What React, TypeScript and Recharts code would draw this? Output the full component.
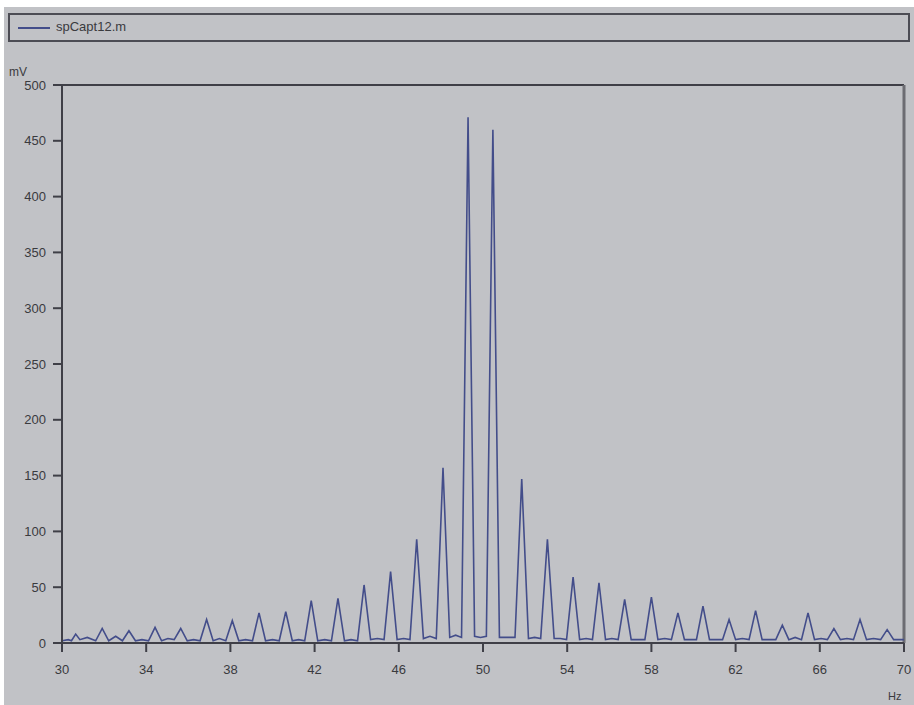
import { LineChart, Line, XAxis, YAxis, ReferenceLine } from "recharts";

// spectrum samples: [Hz, mV]
const lowBand: [number, number][] = [
  [30.0, 2], [30.3, 3], [30.45, 2], [30.65, 8], [30.85, 3], [31.2, 5], [31.6, 2],
  [31.91, 13], [32.22, 2], [32.55, 6], [32.87, 2], [33.18, 11], [33.49, 2], [33.8, 3],
  [34.11, 2], [34.42, 14], [34.73, 2], [35.03, 4], [35.33, 3], [35.64, 13], [35.95, 2],
  [36.25, 3], [36.56, 2], [36.87, 21], [37.18, 2], [37.48, 4], [37.78, 2], [38.09, 20],
  [38.4, 2], [38.72, 3], [39.05, 2], [39.36, 27], [39.67, 2], [40.0, 3], [40.32, 2],
  [40.63, 28], [40.94, 2], [41.24, 3], [41.53, 2], [41.84, 38], [42.15, 2], [42.48, 3],
  [42.8, 2], [43.11, 40], [43.42, 2], [43.73, 3], [44.04, 2], [44.35, 52], [44.66, 3],
  [44.98, 4], [45.3, 3], [45.61, 64], [45.92, 3], [46.23, 4], [46.53, 3],
];

const centerBand: [number, number][] = [
  [46.85, 93], [47.17, 4], [47.48, 6], [47.78, 4], [48.1, 157], [48.42, 5], [48.7, 7],
  [48.98, 5], [49.29, 471], [49.6, 6], [49.88, 5], [50.16, 6], [50.47, 460], [50.78, 5],
  [51.16, 5], [51.52, 5], [51.84, 147], [52.16, 4], [52.45, 5], [52.74, 4], [53.06, 93],
  [53.38, 4], [53.67, 4], [53.97, 3],
];

const highBand: [number, number][] = [
  [54.28, 59], [54.59, 3], [54.9, 4], [55.2, 3], [55.51, 54], [55.82, 3], [56.12, 4],
  [56.42, 3], [56.73, 39], [57.04, 3], [57.37, 3], [57.69, 3], [58.0, 41], [58.31, 3],
  [58.63, 4], [58.95, 3], [59.26, 27], [59.57, 3], [59.86, 3], [60.14, 3], [60.45, 33],
  [60.76, 3], [61.07, 3], [61.38, 3], [61.69, 21], [62.0, 3], [62.32, 4], [62.64, 3],
  [62.95, 29], [63.26, 3], [63.58, 3], [63.91, 3], [64.22, 16], [64.53, 3], [64.83, 5],
  [65.13, 3], [65.44, 27], [65.75, 3], [66.06, 4], [66.36, 3], [66.67, 13], [66.98, 3],
  [67.29, 4], [67.6, 3], [67.91, 21], [68.22, 3], [68.55, 4], [68.89, 3], [69.2, 12],
  [69.51, 3], [70.0, 3],
];

const xTicks = [30, 34, 38, 42, 46, 50, 54, 58, 62, 66, 70];
const yTicks = [0, 50, 100, 150, 200, 250, 300, 350, 400, 450, 500];
const seriesName = "spCapt12.m";

const data = [...lowBand, ...centerBand, ...highBand].map(([hz, mv]) => ({ hz, mv }));

const BG = "#c1c2c6";
const AXIS = "#3f3f47";
const LINE = "#434d8a";
const TEXT = "#3a3a3e";
const font = "'Liberation Sans', Arial, sans-serif";

export default function App() {
  return (
    <div style={{ position: "fixed", left: 0, top: 0, width: 914, height: 705, background: "#fff" }}>
      <div
        style={{
          position: "absolute", left: 4, top: 7, width: 910, height: 698,
          background: BG, overflow: "hidden", fontFamily: font,
        }}
      >
        {/* legend strip */}
        <div
          style={{
            position: "absolute", left: 4, top: 6, width: 898, height: 25,
            border: "2px solid #4c4c54", boxSizing: "content-box",
          }}
        >
          <div style={{ position: "absolute", left: 8, top: 12, width: 32, height: 2, background: LINE }} />
          <div style={{ position: "absolute", left: 46, top: 5, fontSize: 13, color: TEXT, lineHeight: "14px" }}>
            {seriesName}
          </div>
        </div>
        <div style={{ position: "absolute", left: 5, top: 58, fontSize: 12, color: TEXT }}>mV</div>
        <div style={{ position: "absolute", left: 884, top: 683, fontSize: 11, color: TEXT, lineHeight: "12px" }}>Hz</div>

        <LineChart
          width={910}
          height={698}
          data={data}
          margin={{ top: 78, right: 10, bottom: 0, left: 0 }}
          style={{ position: "absolute", left: 0, top: 0 }}
        >
          <XAxis
            dataKey="hz"
            type="number"
            domain={[30, 70]}
            ticks={xTicks}
            height={62}
            tickSize={9}
            tickMargin={13}
            stroke={AXIS}
            strokeWidth={2}
            tick={{ fontSize: 13, fill: TEXT, fontFamily: font }}
            allowDataOverflow
          />
          <YAxis
            type="number"
            domain={[0, 500]}
            ticks={yTicks}
            width={58}
            tickSize={9}
            tickMargin={7}
            stroke={AXIS}
            strokeWidth={2}
            tick={{ fontSize: 13, fill: TEXT, fontFamily: font }}
          />
          <ReferenceLine y={500} stroke={AXIS} strokeWidth={2} />
          <ReferenceLine x={70} stroke="#6c6c72" strokeWidth={3} />
          <Line
            type="linear"
            dataKey="mv"
            stroke={LINE}
            strokeWidth={1.6}
            dot={false}
            isAnimationActive={false}
          />
        </LineChart>
      </div>
    </div>
  );
}
